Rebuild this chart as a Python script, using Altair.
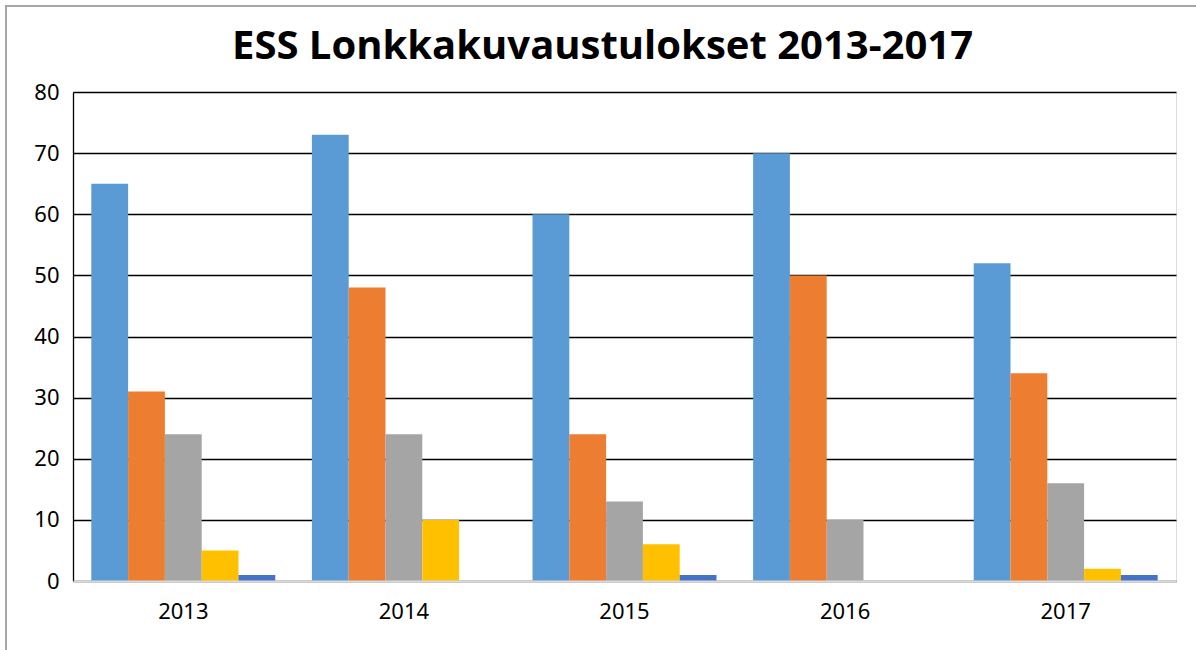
import altair as alt
import pandas as pd

years = ["2013", "2014", "2015", "2016", "2017"]
series = ["A", "B", "C", "D", "E"]
colors = ["#5B9BD5", "#ED7D31", "#A5A5A5", "#FFC000", "#4472C4"]
values_A = [65, 73, 60, 70, 52]
values_B = [31, 48, 24, 50, 34]
values_C = [24, 24, 13, 10, 16]
values_D = [5, 10, 6, 0, 2]
values_E = [1, 0, 1, 0, 1]

all_vals = [values_A, values_B, values_C, values_D, values_E]
rows = []
for s, vals in zip(series, all_vals):
    for y, v in zip(years, vals):
        rows.append({"year": y, "series": s, "value": v})
df = pd.DataFrame(rows)

W, H = 1103, 489
PL, PT = 73, 92

bars = alt.Chart(df).mark_bar(cornerRadius=0).encode(
    x=alt.X("year:N", sort=years, title=None,
            scale=alt.Scale(paddingInner=0.166, paddingOuter=0.083),
            axis=alt.Axis(labelAngle=0, labelFontSize=22, labelFont="Noto Sans",
                          labelColor="#000000", ticks=False, labelPadding=20,
                          domainColor="#D9D9D9", domainWidth=2, grid=False, zindex=1)),
    xOffset=alt.XOffset("series:N", sort=series,
                        scale=alt.Scale(paddingInner=0, paddingOuter=0)),
    y=alt.Y("value:Q", title=None,
            scale=alt.Scale(domain=[0, 80], nice=False),
            axis=alt.Axis(values=[0, 10, 20, 30, 40, 50, 60, 70, 80],
                          labelFontSize=22, labelFont="Noto Sans", labelColor="#000000",
                          ticks=False, labelPadding=14, domainColor="#000000",
                          domainWidth=1.3, gridColor="#000000", gridWidth=1.3,
                          gridOpacity=1, zindex=0)),
    color=alt.Color("series:N", sort=series,
                    scale=alt.Scale(domain=series, range=colors), legend=None),
)

border = alt.Chart(pd.DataFrame({"k": [0]})).mark_rect(
    fill=None, stroke="#A6A6A6", strokeWidth=2
).encode(
    x=alt.value(6 - PL), x2=alt.value(1196 + 20 - PL),
    y=alt.value(6 - PT), y2=alt.value(650 + 20 - PT),
)

chart = alt.layer(bars, border).properties(
    width=W, height=H,
    title=alt.TitleParams("ESS Lonkkakuvaustulokset 2013-2017", font="Open Sans",
                          fontSize=40, fontWeight="bold", color="#000000",
                          anchor="middle", frame="group", dx=-22, offset=-94,
                          baseline="alphabetic"),
    autosize=alt.AutoSizeParams(type="none"),
    padding={"left": PL, "top": PT, "right": 1196 - PL - W, "bottom": 650 - PT - H},
).configure_view(stroke=None).configure(background="#FFFFFF")

chart.save("out.html", embed_options={"renderer": "svg", "actions": False})
